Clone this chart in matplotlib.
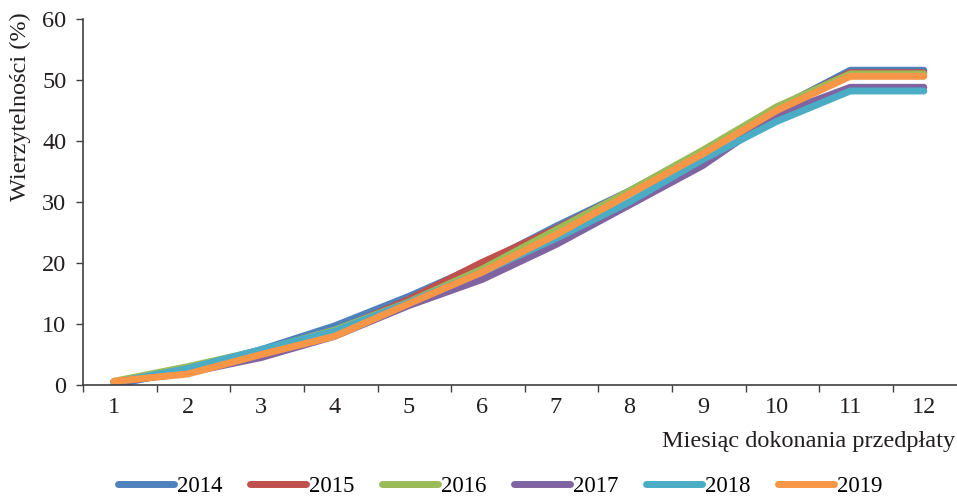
import matplotlib
matplotlib.use("Agg")
import matplotlib.pyplot as plt
import numpy as np

plt.rcParams['font.family'] = ['Liberation Serif', 'DejaVu Serif']

months = [1, 2, 3, 4, 5, 6, 7, 8, 9, 10, 11, 12]
years = ["2014", "2015", "2016", "2017", "2018", "2019"]

v2014 = [0.0, 2.5, 5.8, 9.7, 14.5, 19.8, 26.0, 31.8, 38.3, 45.3, 51.6, 51.6]
v2015 = [0.5, 2.0, 5.3, 8.8, 14.0, 20.1, 25.6, 31.7, 38.3, 45.4, 51.2, 51.2]
v2016 = [0.6, 3.0, 5.7, 9.0, 13.6, 19.0, 25.4, 31.8, 38.5, 45.6, 51.0, 51.0]
v2017 = [0.5, 2.0, 4.5, 8.0, 13.0, 17.3, 23.0, 29.5, 36.0, 44.3, 48.8, 48.8]
v2018 = [0.4, 2.7, 5.8, 8.8, 13.5, 18.5, 24.0, 30.0, 37.0, 43.2, 48.2, 48.2]
v2019 = [0.6, 1.8, 5.0, 8.0, 13.3, 18.5, 24.6, 31.3, 37.9, 45.0, 50.6, 50.6]

series = [v2014, v2015, v2016, v2017, v2018, v2019]
colors = ["#4F81BD", "#C0504D", "#9BBB59", "#8064A2", "#4BACC6", "#F79646"]

TXT = '#231f20'
FS = 17.5

fig = plt.figure(figsize=(9.57, 4.98), dpi=100)
ax = fig.add_axes([83/957, 1 - 385/498, 1 - 83/957, (385 - 19)/498])

for vals, col, lab in zip(series, colors, years):
    ax.plot(months, vals, color=col, lw=5, solid_capstyle='round',
            solid_joinstyle='round', label=lab)

ax.set_ylim(0, 60)
ax.set_yticks(np.arange(0, 61, 10))
ax.set_xlim(0.58, 12.45)
ax.set_xticks(months)
ax.set_xticks([m + 0.58 for m in months[:-1]] + [0.58], minor=True)
ax.tick_params(axis='x', which='major', length=0, pad=8.5, labelsize=FS, colors=TXT)
ax.tick_params(axis='x', which='minor', length=5, width=1, color='#404040', direction='out')
ax.tick_params(axis='y', length=5, width=1, color='#404040', labelsize=FS,
               labelcolor=TXT, pad=7)

for s in ['top', 'right']:
    ax.spines[s].set_visible(False)
for s in ['left', 'bottom']:
    ax.spines[s].set_color('#404040')
    ax.spines[s].set_linewidth(1.2)

fig.text(1.0 - 2/957, 1 - 441/498, "Miesiąc dokonania przedpłaty", ha='right',
         va='center', fontsize=FS, color=TXT)
fig.text(20/957, 1 - 12/498, "Wierzytelności (%)", rotation=90, ha='center',
         va='top', fontsize=FS, color=TXT)

fig.legend(loc='center', bbox_to_anchor=(500/957, 1 - 486/498), ncol=6,
           frameon=False, fontsize=16.5, handlelength=2.45, handletextpad=0.13,
           columnspacing=1.2, borderaxespad=0, borderpad=0)

fig.savefig("out.png", dpi=100)
